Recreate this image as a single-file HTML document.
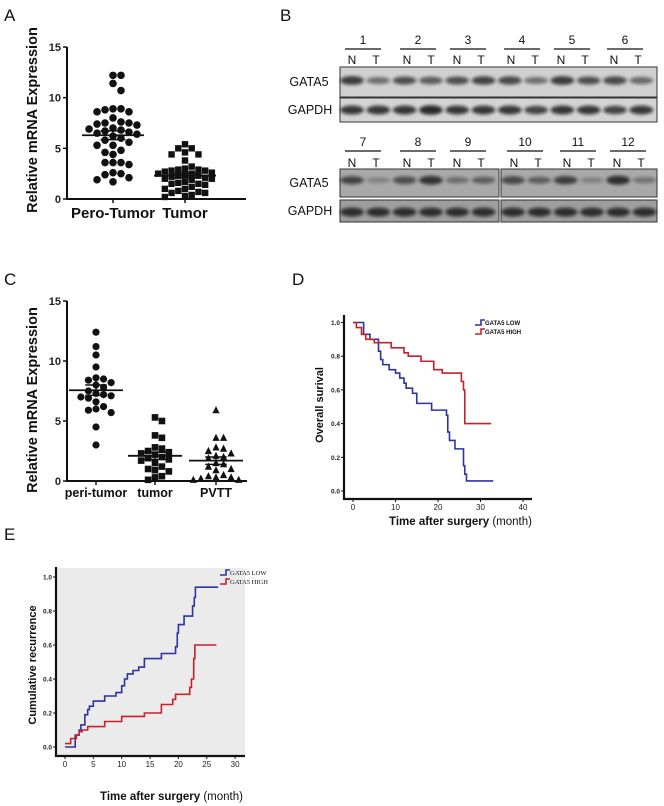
<!DOCTYPE html>
<html><head><meta charset="utf-8"><style>
html,body{margin:0;padding:0;background:#fff;}
svg{display:block;font-family:"Liberation Sans",Arial,sans-serif;}
</style></head><body>
<svg id="fig" width="664" height="806" viewBox="0 0 664 806" xmlns="http://www.w3.org/2000/svg">
<defs><filter id="blur" x="-20%" y="-50%" width="140%" height="200%"><feGaussianBlur stdDeviation="1.6"/></filter></defs>
<g font-size="17" fill="#111">
<text x="4" y="21">A</text>
<text x="280" y="21">B</text>
<text x="4" y="285">C</text>
<text x="292" y="285">D</text>
<text x="4" y="540">E</text>
</g>
<g id="pA"></g>
<g id="pB"></g>
<g id="pC"></g>
<g id="pD"></g>
<g id="pE"></g>
</svg>
<script>
const NS="http://www.w3.org/2000/svg";
function mk(p,tag,at,txt){const e=document.createElementNS(NS,tag);for(const k in at)e.setAttribute(k,at[k]);if(txt!==undefined)e.textContent=txt;p.appendChild(e);return e;}

// ---------- Panel A data ----------
const aCategories=["Pero-Tumor","Tumor"];
const aPeroTumor=[12.2,12.2,11.4,10.7,8.9,8.8,8.6,8.6,8.9,8.0,7.5,7.5,7.4,7.6,7.3,7.0,6.9,6.8,6.7,6.6,6.5,6.4,6.2,6.0,5.8,5.6,5.3,5.3,4.8,4.6,4.4,3.6,3.6,3.6,3.4,2.6,2.5,2.4,2.1,1.9,1.7];
const aTumor=[5.4,5.0,5.0,4.6,4.4,4.4,3.8,3.2,3.0,2.9,2.9,2.8,2.8,2.7,2.6,2.5,2.5,2.4,2.3,2.3,2.2,2.1,2.0,2.0,1.9,1.7,1.6,1.5,1.5,1.4,1.2,1.0,1.0,0.8,0.7,0.6,0.6,0.4,0.3,0.2];
const aTicks=[0,5,10,15];
// ---------- Panel C data ----------
const cCategories=["peri-tumor","tumor","PVTT"];
const cPeri=[12.4,11.2,10.5,9.5,8.6,8.5,8.4,8.2,8.0,7.8,7.5,7.3,7.2,7.1,7.0,6.9,6.6,6.2,6.0,5.9,5.7,4.5,3.0];
const cTumor=[5.3,5.0,3.8,3.6,2.8,2.7,2.5,2.4,2.3,2.2,2.0,1.9,1.8,1.7,1.5,1.2,1.0,0.9,0.8,0.4,0.3,0.1];
const cPVTT=[5.9,3.6,3.6,2.8,2.7,2.5,2.3,2.1,2.0,1.9,1.5,1.4,1.2,1.0,0.9,0.5,0.4,0.3,0.3,0.2,0.1,0.1];
const cTicks=[0,5,10,15];
// ---------- Panel D data (months, survival) ----------
const dLowT=[0,2.5,4,6,6.5,7,8.5,10,11,12,12.5,14,15,18.5,22,22.3,22.7,24,26,26.3,26.7,33];
const dLowS=[1.0,0.93,0.9,0.83,0.78,0.75,0.72,0.70,0.67,0.64,0.61,0.58,0.52,0.48,0.45,0.35,0.30,0.25,0.15,0.10,0.06,0.06];
const dHighT=[0,0.8,2,3,5,9,12,13,16,19,21,25.5,26,26.3,32.5];
const dHighS=[1.0,0.97,0.93,0.9,0.88,0.85,0.82,0.80,0.77,0.72,0.70,0.65,0.60,0.40,0.40];
const dXTicks=[0,10,20,30,40];
const dYTicks=[0,0.2,0.4,0.6,0.8,1.0];
// ---------- Panel E data (months, cumulative recurrence) ----------
const eLowT=[0,1.8,2.5,2.8,3.5,4,4.3,5,7,9,10,10.5,11,12,13,14,17,19.5,19.8,20,21,22.5,22.8,23,27];
const eLowS=[0,0.07,0.10,0.13,0.19,0.22,0.24,0.27,0.30,0.32,0.36,0.40,0.43,0.45,0.47,0.52,0.55,0.59,0.67,0.72,0.77,0.83,0.88,0.94,0.94];
const eHighT=[0,1,2,2.5,3,4,7,10,14,17,19,19.5,22,22.3,22.7,22.9,26.7];
const eHighS=[0.02,0.05,0.07,0.09,0.10,0.12,0.15,0.18,0.20,0.25,0.28,0.31,0.35,0.40,0.52,0.60,0.60];
const eXTicks=[0,5,10,15,20,25,30];
const eYTicks=[0,0.2,0.4,0.6,0.8,1.0];

function mean(a){return a.reduce((s,v)=>s+v,0)/a.length;}
function sem(a){const m=mean(a);return Math.sqrt(a.reduce((s,v)=>s+(v-m)*(v-m),0)/(a.length-1))/Math.sqrt(a.length);}

function marker(g,shape,x,y,r){
  let e;
  if(shape==="circle")e=mk(g,"circle",{cx:x,cy:y,r:r,fill:"#111"});
  else if(shape==="square")e=mk(g,"rect",{x:x-r,y:y-r,width:2*r,height:2*r,fill:"#111"});
  else e=mk(g,"polygon",{points:`${x},${y-r-0.5} ${x-r},${y+r-0.5} ${x+r},${y+r-0.5}`,fill:"#111"});
  
  
}
function swarm(vals,cx,ys,r,half){
  const placed=[];const out=[];const step=r*2.1;
  const order=vals.map((v,i)=>i).sort((a,b)=>vals[b]-vals[a]);
  for(const i of order){const y=ys(vals[i]);
    let best=cx,bestCost=1e9;
    for(let k=0;k<30;k++){const off=(k===0?0:(k%2?1:-1)*Math.ceil(k/2)*step);
      if(Math.abs(off)>half)break;const x=cx+off;
      let cost=0;placed.forEach(p=>{const d=Math.hypot(p[0]-x,p[1]-y);if(d<2*r)cost+=2*r-d;});
      cost+=Math.abs(off)*0.001;
      if(cost<bestCost){bestCost=cost;best=x;}
      if(cost<0.01)break;}
    placed.push([best,y]);out.push([best,y]);}
  return out;
}
function scatterPanel(g,o){
  const ys=v=>o.y0-(v/15)*(o.y0-o.y15);
  mk(g,"line",{x1:o.ax,y1:o.y15,x2:o.ax,y2:o.y0+1,stroke:"#111","stroke-width":2});
  mk(g,"line",{x1:o.ax,y1:o.y0,x2:o.axEnd,y2:o.y0,stroke:"#111","stroke-width":2});
  o.ticks.forEach(t=>{
    mk(g,"line",{x1:o.ax-4,y1:ys(t),x2:o.ax,y2:ys(t),stroke:"#111","stroke-width":1.5});
    const tl=mk(g,"text",{x:o.ax-6,y:ys(t)+4,"text-anchor":"end","font-size":11,"font-weight":"bold",fill:"#222"},t);
    
  });
  const yt=mk(g,"text",{transform:`translate(${o.titleX},${o.titleY}) rotate(-90)`,"text-anchor":"middle","font-size":14.5,"font-weight":"bold",fill:"#111"},"Relative mRNA Expression");
  
  o.groups.forEach((grp,gi)=>{
    const cx=o.cx[gi];const r=grp.r||o.r;
    mk(g,"line",{x1:cx,y1:o.y0,x2:cx,y2:o.y0+4,stroke:"#111","stroke-width":1.5});
    const cl=mk(g,"text",{x:cx,y:o.labelY,"text-anchor":"middle","font-size":o.labelSize,"font-weight":"bold",fill:"#111"},o.cats[gi]);
    
    swarm(grp.vals,cx,ys,r,o.half-3).forEach(p=>marker(g,grp.shape,p[0],p[1],r));
    const m=mean(grp.vals),s=sem(grp.vals);
    mk(g,"line",{x1:cx-o.half,y1:ys(m),x2:cx+o.half,y2:ys(m),stroke:"#111","stroke-width":1.8});
    mk(g,"line",{x1:cx,y1:ys(m-s),x2:cx,y2:ys(m+s),stroke:"#111","stroke-width":1.5});
    mk(g,"line",{x1:cx-o.half*0.4,y1:ys(m+s),x2:cx+o.half*0.4,y2:ys(m+s),stroke:"#111","stroke-width":1.5});
    mk(g,"line",{x1:cx-o.half*0.4,y1:ys(m-s),x2:cx+o.half*0.4,y2:ys(m-s),stroke:"#111","stroke-width":1.5});
  });
}
scatterPanel(document.getElementById("pA"),{ax:67,axEnd:246,y0:199,y15:47,ticks:aTicks,titleX:37,titleY:120,cx:[113,185],cats:aCategories,labelY:218,labelSize:15,r:3.8,half:31,
  groups:[{vals:aPeroTumor,shape:"circle"},{vals:aTumor,shape:"square",r:3.2}]});
scatterPanel(document.getElementById("pC"),{ax:67,axEnd:247,y0:481,y15:301,ticks:cTicks,titleX:37,titleY:400,cx:[96,155,216],cats:cCategories,labelY:497,labelSize:12.5,r:3.6,half:27,
  groups:[{vals:cPeri,shape:"circle"},{vals:cTumor,shape:"square",r:3.3},{vals:cPVTT,shape:"tri"}]});

// ---------- Panel B: western blots ----------
const bTop=[1,2,3,4,5,6], bBot=[7,8,9,10,11,12];
const bTopNum=[363,418,468,522,572,625], bBotNum=[363,418,468,525,578,628];
const bGataTop=[0.85,0.45,0.7,0.6,0.7,0.8,0.75,0.45,0.85,0.7,0.75,0.5];
const bGataBot=[0.7,0.1,0.6,0.85,0.3,0.45,0.65,0.45,0.75,0.1,0.9,0.25];
function blot(g,x,y,w,h,bg,lanes,x0,dx,level,dark,name){
  const r=mk(g,"rect",{x:x,y:y,width:w,height:h,fill:bg,stroke:"#333","stroke-width":1});
  
  lanes.forEach((v,i)=>{
    const cx=x0+i*dx;
    mk(g,"ellipse",{cx:cx,cy:y+h*level,rx:dx*0.45,ry:2.5+v*2.2,fill:dark,opacity:0.2+v*0.65,filter:"url(#blur)"});
  });
}
(function(){
  const g=document.getElementById("pB");
  const lab=(t,x,y,s)=>{const e=mk(g,"text",{x:x,y:y,"font-size":s,fill:"#111","text-anchor":"middle"},t);};
  [[bTop,bTopNum,44,58],[bBot,bBotNum,146,161]].forEach(([nums,xs,ny,ly])=>{
    nums.forEach((n,i)=>{const cx=xs[i];lab(n,cx,ny,12);
      mk(g,"line",{x1:cx-18,y1:ny+5,x2:cx+18,y2:ny+5,stroke:"#111","stroke-width":1.2});
      lab("N",cx-11,ly+6,12);lab("T",cx+13,ly+6,12);});
  });
  blot(g,340,67,317,30,"#d0d0d0",bGataTop,352,26.3,0.45,"#111","gata5-blot-top");
  blot(g,340,98,317,24,"#d4d4d4",[0.9,0.9,0.9,1,0.9,0.9,0.9,0.8,0.9,0.9,0.8,0.9],352,26.3,0.5,"#111","gapdh-blot-top");
  blot(g,340,169,159,28,"#a9a9a9",bGataBot.slice(0,6),352,26.3,0.4,"#111","gata5-blot-bottom-left");
  blot(g,501,169,156,28,"#a9a9a9",bGataBot.slice(6),513,26.3,0.4,"#111","gata5-blot-bottom-right");
  blot(g,340,200,159,22,"#9e9e9e",[0.9,0.9,0.9,0.9,0.9,0.9],352,26.3,0.55,"#111","gapdh-blot-bottom-left");
  blot(g,501,200,156,22,"#9e9e9e",[0.9,0.9,0.9,0.9,0.9,0.9],513,26.3,0.55,"#111","gapdh-blot-bottom-right");
  lab("GATA5",309,86,12.5);lab("GAPDH",310,114,12.5);lab("GATA5",309,187,12.5);lab("GAPDH",310,215,12.5);
})();

// ---------- KM panels ----------
function kmPanel(g,o){
  const xs=t=>o.x0+t*o.px;const ys=v=>o.y0-v*o.py;
  if(o.bg){const b=mk(g,"rect",{x:o.ax,y:o.bgTop,width:o.axEnd-o.ax,height:o.xAxisY-o.bgTop,fill:"#ebebeb"});}
  mk(g,"line",{x1:o.ax,y1:o.yTop,x2:o.ax,y2:o.xAxisY+1,stroke:"#111","stroke-width":2.2});
  mk(g,"line",{x1:o.ax-1,y1:o.xAxisY,x2:o.axEnd,y2:o.xAxisY,stroke:"#111","stroke-width":2.2});
  o.yTicks.forEach(t=>{mk(g,"line",{x1:o.ax-3,y1:ys(t),x2:o.ax,y2:ys(t),stroke:"#111"});
    const e=mk(g,"text",{x:o.ax-4,y:ys(t)+2.5,"text-anchor":"end","font-size":6.5,"font-weight":"bold",fill:"#222"},t.toFixed(1));});
  o.xTicks.forEach(t=>{mk(g,"line",{x1:xs(t),y1:o.xAxisY,x2:xs(t),y2:o.xAxisY+3,stroke:"#111"});
    const e=mk(g,"text",{x:xs(t),y:o.xAxisY+11,"text-anchor":"middle","font-size":8,fill:"#222"},t);});
  o.series.forEach(s=>{
    let d=`M${xs(s.t[0])},${ys(s.v[0])}`;
    for(let i=1;i<s.t.length;i++){d+=` H${xs(s.t[i])} V${ys(s.v[i])}`;}
    const p=mk(g,"path",{d:d,fill:"none",stroke:s.c,"stroke-width":1.6});
    
  });
  o.series.forEach((s,i)=>{const ly=o.legY+i*9;
    mk(g,"path",{d:`M${o.legX},${ly+3} H${o.legX+6} V${ly-2} H${o.legX+10}`,fill:"none",stroke:s.c,"stroke-width":1.6});
    const e=mk(g,"text",{x:o.legX+10,y:ly+3,"font-size":o.legSize,"font-weight":o.legWeight,fill:"#111","font-family":o.legFont},s.label);
    });
  const yt=mk(g,"text",{transform:`translate(${o.titleX},${o.titleY}) rotate(-90)`,"text-anchor":"middle","font-size":11,"font-weight":"bold",fill:"#111"},o.yTitle);
  
  const xt=mk(g,"text",{x:o.xtX,y:o.xtY,"font-size":11.5,fill:"#111"});
  
  mk(xt,"tspan",{"font-weight":"bold"},"Time after surgery");mk(xt,"tspan",{}," (month)");
}
kmPanel(document.getElementById("pD"),{x0:353,px:4.25,y0:491,py:168.5,ax:344,axEnd:532,xAxisY:499,yTop:315,yTicks:dYTicks,xTicks:dXTicks,
  series:[{t:dLowT,v:dLowS,c:"#2e33a0",label:"GATA5 LOW",name:"low-curve"},{t:dHighT,v:dHighS,c:"#c8202a",label:"GATA5 HIGH",name:"high-curve"}],
  legX:475,legY:322,legSize:6,legWeight:"bold",legFont:"Liberation Sans",titleX:323,titleY:405,yTitle:"Overall surival",xtX:389,xtY:525});
kmPanel(document.getElementById("pE"),{x0:65,px:5.67,y0:747,py:170,ax:56,axEnd:245,xAxisY:756,yTop:567,bg:true,bgTop:568,yTicks:eYTicks,xTicks:eXTicks,
  series:[{t:eLowT,v:eLowS,c:"#2e33a0",label:"GATA5 LOW",name:"low-curve"},{t:eHighT,v:eHighS,c:"#c8202a",label:"GATA5 HIGH",name:"high-curve"}],
  legX:220,legY:572,legSize:6.5,legWeight:"normal",legFont:"Liberation Serif",titleX:36,titleY:665,yTitle:"Cumulative recurrence",xtX:100,xtY:800});
</script>
</body></html>
